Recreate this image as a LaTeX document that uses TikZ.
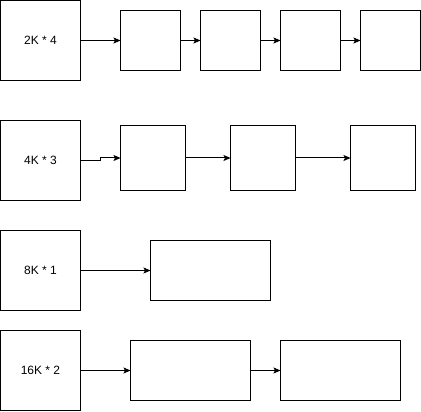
\documentclass[tikz,border=0pt]{standalone}
\usepackage{fontspec}
\setmainfont{Liberation Sans}
\usetikzlibrary{arrows.meta}
\usetikzlibrary{positioning}

\tikzset{
  srcbox/.style={draw, line width=1pt, minimum width=80pt, minimum height=80pt,
    inner sep=0pt, outer sep=0pt, font=\fontsize{12}{14}\selectfont},
  blkbox/.style={draw, line width=1pt, inner sep=0pt, outer sep=0pt,
    minimum width=#1, minimum height=60pt},
  sqbox/.style={draw, line width=1pt, inner sep=0pt, outer sep=0pt,
    minimum width=65pt, minimum height=65pt},
  link/.style={line width=1pt, -{Stealth[length=7pt, width=6pt, inset=1.5pt]}},
}

\begin{document}
\begin{tikzpicture}[x=1pt, y=-1pt]
  \useasboundingbox (-0.5,-0.5) rectangle (420.5,411.5);

  % 2K * 4
  \node[srcbox] (s1) at (40,40) {2K * 4};
  \node[blkbox=60pt, right=40pt of s1] (b11) {};
  \node[blkbox=60pt, right=20pt of b11] (b12) {};
  \node[blkbox=60pt, right=20pt of b12] (b13) {};
  \node[blkbox=60pt, right=20pt of b13] (b14) {};

  % 4K * 3
  \node[srcbox] (s2) at (40,160) {4K * 3};
  \node[sqbox, right=40pt of s2, yshift=2.5pt] (b21) {};
  \node[sqbox, right=45pt of b21] (b22) {};
  \node[sqbox, right=55pt of b22] (b23) {};

  % 8K * 1
  \node[srcbox] (s3) at (40,270) {8K * 1};
  \node[blkbox=120pt, right=70pt of s3] (b31) {};

  % 16K * 2
  \node[srcbox] (s4) at (40,370) {16K * 2};
  \node[blkbox=120pt, right=50pt of s4] (b41) {};
  \node[blkbox=120pt, right=30pt of b41] (b42) {};

  \draw[link] (s1) -- (b11);
  \draw[link] (b11) -- (b12);
  \draw[link] (b12) -- (b13);
  \draw[link] (b13) -- (b14);
  \draw[link] (s2.east) -- ++(20,0) |- (b21.west);
  \draw[link] (b21) -- (b22);
  \draw[link] (b22) -- (b23);
  \draw[link] (s3) -- (b31);
  \draw[link] (s4) -- (b41);
  \draw[link] (b41) -- (b42);
\end{tikzpicture}
\end{document}
